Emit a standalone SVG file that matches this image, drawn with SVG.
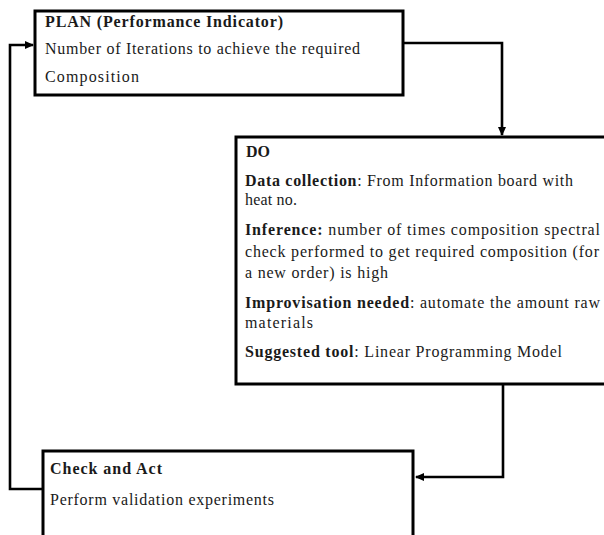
<svg xmlns="http://www.w3.org/2000/svg" width="604" height="535" viewBox="0 0 604 535">
  <style>
    .box { fill: #ffffff; stroke: #000000; stroke-width: 3; }
    .wire { fill: none; stroke: #000000; stroke-width: 2.6; }
    text { font-family: 'Liberation Serif', 'DejaVu Serif', serif; font-size: 16px; fill: #1a1a1a; }
    .b { font-weight: bold; }
  </style>
  <defs>
    <marker id="arrow" markerUnits="userSpaceOnUse" markerWidth="9" markerHeight="8" refX="8" refY="4" orient="auto">
      <path d="M0,0 L9,4 L0,8 z" fill="#000000"/>
    </marker>
  </defs>

  <rect width="604" height="535" fill="#ffffff"/>

  <!-- connectors -->
  <g id="connectors">
    <path class="wire" d="M403,43 H502 V135" marker-end="url(#arrow)"/>
    <path class="wire" d="M503,384 V477 H416" marker-end="url(#arrow)"/>
    <path class="wire" d="M43,489 H10 V45 H33" marker-end="url(#arrow)"/>
  </g>

  <!-- PLAN -->
  <g id="plan">
    <rect class="box" x="35" y="11" width="368" height="84"/>
    <text x="45" y="27" class="b" textLength="238" lengthAdjust="spacing">PLAN (Performance Indicator)</text>
    <text x="45" y="54" textLength="315" lengthAdjust="spacing">Number of Iterations to achieve the required</text>
    <text x="45" y="82" textLength="94" lengthAdjust="spacing">Composition</text>
  </g>

  <!-- DO -->
  <g id="do">
    <rect class="box" x="236" y="137" width="380" height="247"/>
    <text x="246" y="157" class="b">DO</text>
    <text x="245" y="186" textLength="328" lengthAdjust="spacing"><tspan class="b">Data collection</tspan>: From Information board with</text>
    <text x="245" y="205" textLength="52" lengthAdjust="spacing">heat no.</text>
    <text x="245" y="235" textLength="355" lengthAdjust="spacing"><tspan class="b">Inference:</tspan> number of times composition spectral</text>
    <text x="245" y="257" textLength="354" lengthAdjust="spacing">check performed to get required composition (for</text>
    <text x="245" y="278" textLength="143" lengthAdjust="spacing">a new order) is high</text>
    <text x="245" y="308" textLength="355" lengthAdjust="spacing"><tspan class="b">Improvisation needed</tspan>: automate the amount raw</text>
    <text x="245" y="328" textLength="68" lengthAdjust="spacing">materials</text>
    <text x="245" y="357" textLength="317" lengthAdjust="spacing"><tspan class="b">Suggested tool</tspan>: Linear Programming Model</text>
  </g>

  <!-- Check and Act -->
  <g id="check-act">
    <rect class="box" x="43" y="451" width="370" height="100"/>
    <text x="50" y="474" class="b" textLength="112" lengthAdjust="spacing">Check and Act</text>
    <text x="50" y="505" textLength="224" lengthAdjust="spacing">Perform validation experiments</text>
  </g>
</svg>
